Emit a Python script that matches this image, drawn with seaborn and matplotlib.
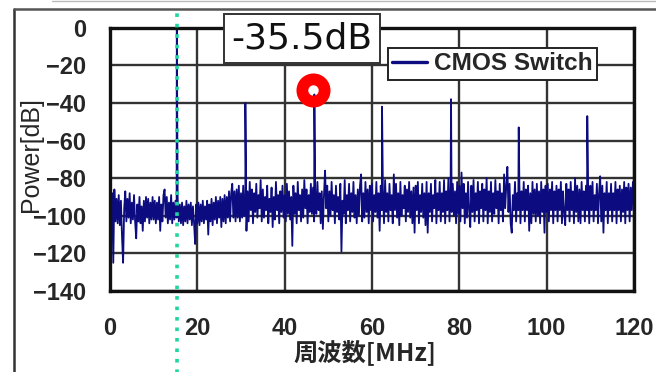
import numpy as np
import pandas as pd
import matplotlib
matplotlib.use("Agg")
import matplotlib.pyplot as plt
import matplotlib.transforms as mtransforms
from matplotlib.lines import Line2D
import seaborn as sns

# Noise floor of the spectrum, sampled every 0.25 MHz from 0 to 120 MHz [dB]
noise_step_mhz = 0.25
noise_db = [
    # 0 - 10 MHz
    -84, -102, -88, -125, -86, -103, -91, -104, -89, -105,
    -92, -111, -125, -96, -87, -103, -91, -101, -88, -104,
    -93, -102, -89, -103, -112, -94, -103, -90, -104, -95,
    -108, -92, -103, -90, -101, -91, -104, -93, -102, -90,
    # 10 - 20 MHz
    -102, -92, -104, -93, -102, -90, -108, -94, -103, -89,
    -86, -101, -90, -104, -93, -102, -89, -104, -93, -102,
    -92, -101, -91, -103, -94, -104, -93, -105, -95, -103,
    -92, -104, -94, -102, -93, -105, -95, -104, -115, -94,
    # 20 - 30 MHz
    -104, -93, -105, -94, -103, -92, -104, -95, -102, -92,
    -110, -94, -103, -91, -105, -93, -102, -90, -104, -92,
    -101, -90, -106, -91, -103, -89, -104, -90, -101, -87,
    -103, -88, -83, -101, -87, -103, -86, -101, -84, -103,
    # 30 - 40 MHz
    -88, -101, -84, -100, -92, -108, -87, -103, -82, -97,
    -86, -104, -88, -98, -83, -101, -89, -96, -81, -103,
    -86, -101, -90, -97, -84, -104, -91, -98, -85, -106,
    -90, -102, -82, -97, -89, -104, -87, -98, -84, -101,
    # 40 - 50 MHz
    -89, -103, -83, -99, -87, -102, -90, -116, -84, -99,
    -88, -104, -82, -97, -89, -103, -86, -101, -81, -96,
    -86, -104, -89, -98, -83, -99, -85, -103, -88, -99,
    -82, -97, -88, -104, -87, -107, -89, -76, -96, -84,
    # 50 - 60 MHz
    -103, -87, -100, -82, -97, -89, -104, -84, -98, -90,
    -102, -83, -119, -92, -99, -81, -104, -89, -97, -83,
    -103, -88, -98, -82, -101, -89, -104, -86, -100, -84,
    -78, -103, -88, -101, -82, -98, -86, -104, -84, -97,
    # 60 - 70 MHz
    -83, -103, -89, -98, -82, -101, -88, -108, -84, -97,
    -87, -104, -81, -98, -88, -103, -83, -97, -89, -104,
    -78, -97, -83, -101, -88, -105, -82, -100, -89, -96,
    -84, -103, -86, -98, -82, -101, -87, -104, -85, -109,
    # 70 - 80 MHz
    -84, -97, -82, -104, -89, -98, -83, -101, -88, -105,
    -82, -109, -88, -98, -83, -103, -89, -96, -81, -104,
    -88, -97, -82, -103, -88, -98, -81, -104, -87, -97,
    -80, -103, -86, -98, -83, -100, -87, -104, -82, -99,
    # 80 - 90 MHz
    -84, -103, -77, -96, -83, -104, -88, -101, -82, -97,
    -106, -84, -98, -81, -103, -88, -97, -82, -104, -87,
    -96, -83, -103, -86, -97, -80, -104, -87, -98, -82,
    -103, -88, -99, -81, -96, -87, -104, -83, -97, -88,
    # 90 - 100 MHz
    -103, -78, -96, -84, -74, -98, -83, -104, -109, -89,
    -97, -82, -103, -88, -97, -83, -104, -87, -97, -82,
    -103, -86, -97, -84, -108, -88, -104, -82, -99, -86,
    -103, -83, -100, -87, -104, -82, -98, -86, -109, -84,
    # 100 - 110 MHz
    -98, -83, -103, -86, -97, -82, -104, -87, -97, -84,
    -103, -86, -97, -82, -104, -87, -98, -105, -83, -97,
    -86, -103, -82, -97, -87, -104, -80, -98, -84, -103,
    -86, -104, -82, -97, -87, -103, -84, -97, -86, -104,
    # 110 - 120 MHz
    -84, -97, -82, -103, -89, -97, -83, -104, -88, -79,
    -103, -84, -109, -88, -97, -82, -104, -88, -97, -83,
    -103, -88, -97, -82, -104, -86, -97, -84, -103, -86,
    -98, -82, -104, -85, -97, -83, -103, -85, -97, -82,
    -90,
]

# Switching spurs (frequency [MHz], level [dB])
spur_freq_mhz = [15.3, 31.0, 46.8, 62.3, 78.1, 93.6, 109.3]
spur_db = [0.0, -40.0, -35.5, -42.0, -38.0, -53.0, -47.0]

# Highlighted spur
marked_freq_mhz = 46.8
marked_db = -35.5
marked_label = "-35.5dB"

# Clock frequency marker
clock_freq_mhz = 15.3

series_name = "CMOS Switch"
x_ticks = [0, 20, 40, 60, 80, 100, 120]
y_ticks = [0, -20, -40, -60, -80, -100, -120, -140]
x_label = "周波数[MHz]"
y_label = "Power[dB]"

noise_freq = np.arange(len(noise_db)) * noise_step_mhz
spectrum = pd.concat(
    [
        pd.DataFrame({"freq": noise_freq, "power": noise_db}),
        pd.DataFrame({"freq": spur_freq_mhz, "power": spur_db}),
    ],
    ignore_index=True,
).sort_values("freq", kind="mergesort")

sns.set_style("white")
plt.rcParams["font.family"] = ["Liberation Sans", "Noto Sans CJK JP", "DejaVu Sans"]
plt.rcParams["axes.unicode_minus"] = True

W, H = 656, 372
fig = plt.figure(figsize=(W / 100, H / 100), dpi=100)
fig.patch.set_facecolor("white")
ax = fig.add_axes([110 / W, 1 - 291 / H, (634 - 110) / W, (291 - 27.7) / H])

line_color = "#0c0c80"
sns.lineplot(
    data=spectrum, x="freq", y="power", ax=ax, color=line_color,
    linewidth=1.3, estimator=None, sort=False, label=series_name,
)

ax.set_xlim(0, 120)
ax.set_ylim(-140, 0)
ax.set_xticks(x_ticks)
ax.set_yticks(y_ticks)
ax.set_xticklabels([str(v) for v in x_ticks], fontsize=17, fontweight="bold")
ax.set_yticklabels([f"{v}".replace("-", "\u2212") for v in y_ticks],
                   fontsize=17, fontweight="bold")
ax.tick_params(axis="x", length=0, pad=19)
ax.tick_params(axis="y", length=0, pad=17)

ax.grid(True, color="#333333", linewidth=1.7)
ax.set_axisbelow(True)
for sp in ax.spines.values():
    sp.set_visible(True)
    sp.set_color("#111111")
    sp.set_linewidth(2.4)

ax.set_xlabel(x_label, fontsize=17.5, fontweight="bold",
              family=["Noto Sans CJK JP", "Liberation Sans"])
ax.xaxis.set_label_coords((365 - 110) / 524, -(352 - 291) / 263.3)
ax.xaxis.label.set_va("center")
ax.set_ylabel(y_label, fontsize=18, family=["Liberation Sans"])
ax.yaxis.set_label_coords(-(110 - 43) / 524, 0.52)

# Legend
leg = ax.legend(loc="upper left",
                bbox_to_anchor=((388 - 110) / 524, 1 - (48 - 27.7) / 263.3),
                frameon=True, fancybox=False, shadow=False, borderaxespad=0,
                handlelength=1.4, handletextpad=0.3, borderpad=0.18,
                prop={"family": "Liberation Sans", "weight": "bold", "size": 17.6})
leg.get_frame().set_edgecolor("#222222")
leg.get_frame().set_linewidth(1.4)
leg.get_frame().set_alpha(1)
leg.get_lines()[0].set_linewidth(2.4)

# Red ring around the highlighted spur
ring_offset = mtransforms.ScaledTranslation(-1.5 / 100, 4 / 100, fig.dpi_scale_trans)
ax.plot([marked_freq_mhz], [marked_db], marker="o", markersize=16,
        markerfacecolor="none", markeredgecolor="#ff0000", markeredgewidth=8.5,
        transform=ax.transData + ring_offset, clip_on=False, zorder=5)

# Value callout
ax.text((303 - 110.8) / 4.375, (27.7 - 38.5) / 1.885, marked_label,
        fontsize=26, family="DejaVu Sans", ha="center", va="center",
        color="#111111", zorder=6, clip_on=False,
        bbox=dict(boxstyle="square,pad=0.2", facecolor="white",
                  edgecolor="#333333", linewidth=1.4))

# Dotted clock marker extending beyond the plot area
ax.axvline(clock_freq_mhz, ymin=-0.31, ymax=1.056, clip_on=False,
           color="#1fd6a0", linewidth=2.6, linestyle=(0, (1.0, 1.9)), zorder=4)

# Outer chart-area frame
fig.add_artist(Line2D([14 / W, 14 / W], [0, 1 - 9 / H], transform=fig.transFigure,
                      color="#333333", linewidth=1.8))
fig.add_artist(Line2D([14 / W, 1], [1 - 9 / H, 1 - 9 / H], transform=fig.transFigure,
                      color="#555555", linewidth=1.8))
fig.add_artist(Line2D([52 / W, 1], [1 - 0.5 / H, 1 - 0.5 / H], transform=fig.transFigure,
                      color="#bbbbbb", linewidth=1.0))

fig.savefig("out.png", dpi=100, facecolor="white")
